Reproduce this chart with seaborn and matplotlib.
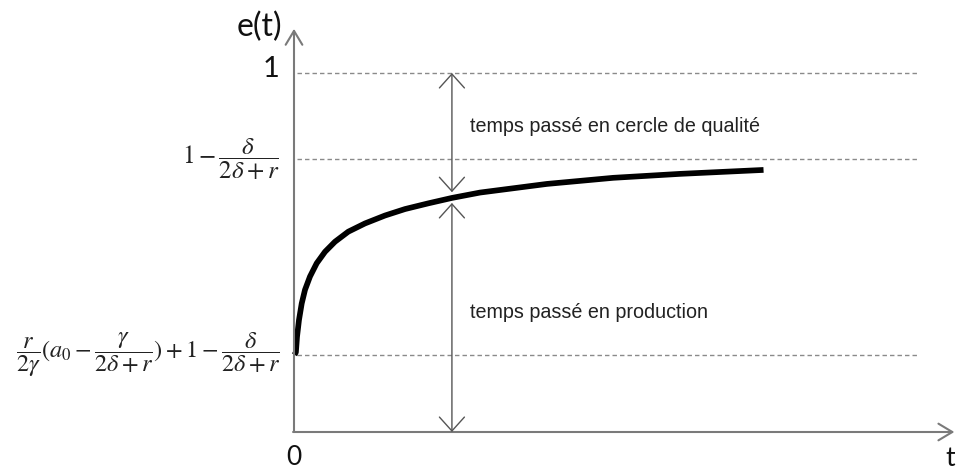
import numpy as np
import pandas as pd
import matplotlib
matplotlib.use("Agg")
import matplotlib.pyplot as plt
import seaborn as sns

# curve e(t) (t in arbitrary units, e scaled so that 1 is the top line)
t_vals = [0.01, 0.04, 0.064, 0.106, 0.164, 0.234, 0.34, 0.483, 0.66, 0.872, 1.155, 1.511, 1.936,
          2.362, 2.86, 3.36, 3.96, 5.38, 6.79, 8.21, 9.99]
e_vals = [0.215, 0.222, 0.265, 0.312, 0.358, 0.396, 0.433, 0.470, 0.502, 0.530, 0.558, 0.581, 0.603,
          0.621, 0.637, 0.652, 0.667, 0.691, 0.708, 0.719, 0.730]

level_one = 1.0
level_star = 0.760
level_start = 0.214
levels = [level_one, level_star, level_start]

t_arrow = 3.36
e_meet = 0.652

label_one = "1"
label_star = r"$1-\dfrac{\delta}{2\delta+r}$"
label_start = r"$\dfrac{r}{2\gamma}(a_0-\dfrac{\gamma}{2\delta+r})+1-\dfrac{\delta}{2\delta+r}$"
text_quality = "temps passé en cercle de qualité"
text_prod = "temps passé en production"

sns.set_style("white")
plt.rcParams["mathtext.fontset"] = "stix"
plt.rcParams["font.family"] = ["Lato", "DejaVu Sans"]

df = pd.DataFrame({"t": t_vals, "e": e_vals})

fig = plt.figure(figsize = (9.56, 4.70), dpi = 100)
ax = fig.add_axes([0, 0, 1, 1])
ax.set_xlim(-294 / 47, 662 / 47)
ax.set_ylim(-38 / 359, 432 / 359)
ax.axis("off")

# dashed reference lines
ax.hlines(levels, 0.06, 13.26, colors = "#8a8a8a", linestyles = (0, (3.2, 2.2)), lw = 1.0)

# the curve
sns.lineplot(data = df, x = "t", y = "e", ax = ax, color = "black", lw = 4.1, sort = False,
             solid_capstyle = "butt", solid_joinstyle = "round")

# axes with arrows
grey = "#7a7a7a"
head = "->,head_length=0.5,head_width=0.3"
ax.annotate("", xy = (0, 1.123), xytext = (0, 0), annotation_clip = False,
            arrowprops = dict(arrowstyle = head, color = grey, lw = 1.5,
                              shrinkA = 0, shrinkB = 0, mutation_scale = 20))
ax.annotate("", xy = (14.05, 0), xytext = (-0.02, 0), annotation_clip = False,
            arrowprops = dict(arrowstyle = head, color = grey, lw = 1.5,
                              shrinkA = 0, shrinkB = 0, mutation_scale = 20))

# double arrows
dbl = "<->,head_length=0.5,head_width=0.45"
ax.annotate("", xy = (t_arrow, level_one), xytext = (t_arrow, e_meet + 0.016),
            arrowprops = dict(arrowstyle = dbl, color = "#555555", lw = 1.0,
                              shrinkA = 0, shrinkB = 0, mutation_scale = 20))
ax.annotate("", xy = (t_arrow, 0), xytext = (t_arrow, e_meet - 0.014),
            arrowprops = dict(arrowstyle = dbl, color = "#555555", lw = 1.0,
                              shrinkA = 0, shrinkB = 0, mutation_scale = 20))

# axis labels
ax.text(-0.25, 1.128, "e(t)", ha = "right", va = "center", fontsize = 23, color = "#111111")
ax.text(-0.30, level_one + 0.01, label_one, ha = "right", va = "center", fontsize = 21, color = "#111111")
ax.text(0.0, -0.072, "0", ha = "center", va = "center", fontsize = 19, color = "#111111")
ax.text(14.07, -0.075, "t", ha = "right", va = "center", fontsize = 19, color = "#111111")

# level labels
ax.text(-0.30, level_star, label_star, ha = "right", va = "center", fontsize = 18, color = "#222222")
ax.text(-0.30, level_start, label_start, ha = "right", va = "center", fontsize = 17.5, color = "#222222")

# annotations
ax.text(3.74, 0.850, text_quality, ha = "left", va = "center", fontsize = 14.2,
        family = ["Liberation Sans", "DejaVu Sans"], color = "#222222")
ax.text(3.74, 0.334, text_prod, ha = "left", va = "center", fontsize = 14.2,
        family = ["Liberation Sans", "DejaVu Sans"], color = "#222222")

fig.savefig("out.png", dpi = 100)
